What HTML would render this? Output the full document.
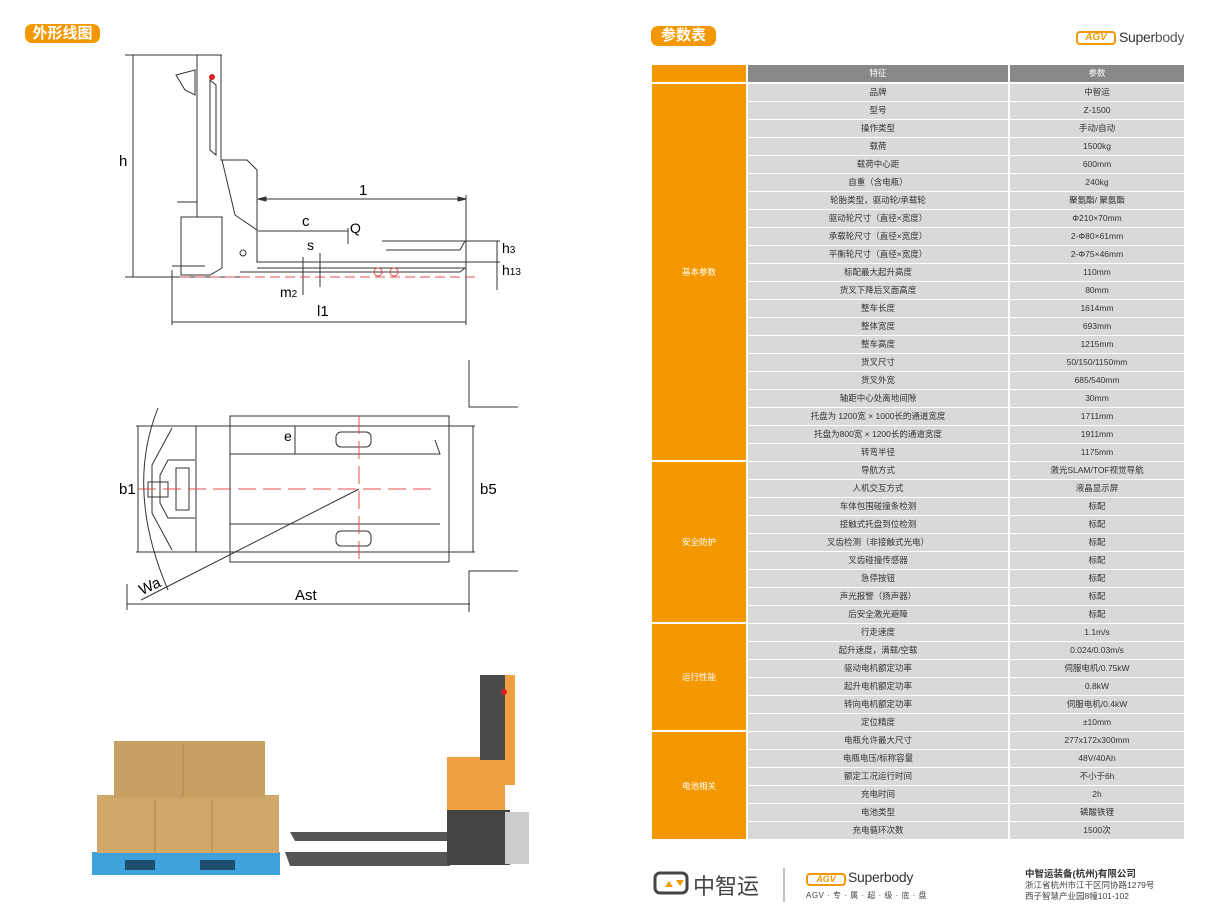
<!DOCTYPE html>
<html><head><meta charset="utf-8">
<style>
*{margin:0;padding:0;box-sizing:border-box}
body{width:1210px;height:917px;background:#fff;position:relative;overflow:hidden;font-family:"Liberation Sans","Noto Sans CJK SC",sans-serif}
.badge{position:absolute;background:#f39800;color:#fff;font-weight:bold;font-size:15px;border-radius:7px;text-align:center;line-height:20px}
#tbl{position:absolute;left:652px;top:65px}
.r{position:absolute;left:0;height:17px;font-size:8.5px;color:#333;line-height:17px;text-align:center}
.f{position:absolute;left:96px;width:260px;background:#d9d9d9}
.v{position:absolute;left:358px;width:174px;background:#d9d9d9}
.g{position:absolute;left:0;width:94px;background:#f39800;color:#fff;font-size:8.5px;display:flex;align-items:center;justify-content:center}
</style></head><body>
<div class="badge" style="left:25px;top:24px;width:75px;height:19px">外形线图</div>
<div class="badge" style="left:651px;top:26px;width:65px;height:20px">参数表</div>
<div style="position:absolute;left:1076px;top:31px;width:40px;height:14px;border:2px solid #f39800;border-radius:4px;color:#f39800;font-size:10px;font-weight:bold;font-style:italic;text-align:center;line-height:10px">AGV</div>
<div style="position:absolute;left:1119px;top:29px;font-size:14px;color:#333;letter-spacing:-0.3px">Super<span style="color:#555">body</span></div>

<svg width="1210" height="917" style="position:absolute;left:0;top:0" fill="none" stroke="#333" stroke-width="1">
<line x1="125" y1="55" x2="222" y2="55"/>
<line x1="133" y1="55" x2="133" y2="277"/>
<line x1="125" y1="277" x2="240" y2="277"/>
<path d="M197 55 H221 V160 H247 L257 170 V262 H465 M197 55 V217 M222 160 L235 215 L257 230"/>
<path d="M210 80 V150 L216 155 V85 Z"/>
<path d="M176 75 L195 70 V95 L185 90 Z"/>
<path d="M181 217 H222 V268 L210 275 H181 Z"/>
<path d="M177 202 H197 V217 H181"/>
<path d="M172 266 H205 M257 268 H465 L460 272 H240"/>
<path d="M382 241 H465 L460 250 H386"/>
<circle cx="212" cy="77" r="3" fill="#e02020" stroke="none"/>
<circle cx="243" cy="253" r="3"/>
<line x1="258" y1="199" x2="466" y2="199"/>
<path d="M258 199 l8 -2 v4z M466 199 l-8 -2 v4z" fill="#333"/>
<line x1="258" y1="231" x2="348" y2="231"/>
<line x1="348" y1="228" x2="348" y2="244"/>
<line x1="466" y1="195" x2="466" y2="325"/>
<line x1="172" y1="270" x2="172" y2="325"/>
<line x1="172" y1="322" x2="466" y2="322"/>
<line x1="460" y1="241" x2="500" y2="241"/>
<line x1="460" y1="262" x2="500" y2="262"/>
<line x1="497" y1="241" x2="497" y2="290"/>
<line x1="303" y1="257" x2="303" y2="295"/>
<line x1="320" y1="253" x2="320" y2="287"/>
<line x1="180" y1="277" x2="480" y2="277" stroke="#e05050" stroke-dasharray="10 5"/>
<circle cx="378" cy="272" r="4" stroke="#e05050"/><circle cx="394" cy="272" r="4" stroke="#e05050"/>
<rect x="230" y="416" width="219" height="146"/>
<path d="M230 426 H475 M230 454 H440 L435 440 M230 524 H440 M230 552 H475"/>
<line x1="136" y1="426" x2="145" y2="426"/><line x1="136" y1="552" x2="145" y2="552"/>
<line x1="138" y1="426" x2="138" y2="552"/>
<line x1="473" y1="426" x2="473" y2="552"/>
<line x1="295" y1="426" x2="295" y2="454"/>
<path d="M145 426 H196 V552 H145 M196 426 H230 V552 H196"/>
<path d="M172 428 L152 465 V513 L172 550" />
<path d="M195 460 H168 L160 475 V503 L168 518 H195"/>
<rect x="176" y="468" width="13" height="42"/>
<rect x="148" y="482" width="20" height="15"/>
<rect x="336" y="432" width="35" height="15" rx="5"/>
<rect x="336" y="531" width="35" height="15" rx="5"/>
<line x1="138" y1="489" x2="432" y2="489" stroke="#e05050" stroke-dasharray="18 7"/>
<line x1="359" y1="416" x2="359" y2="562" stroke="#e05050" stroke-dasharray="18 7"/>
<line x1="359" y1="489" x2="141" y2="600"/>
<path d="M158 408 Q125 490 168 590"/>
<line x1="127" y1="584" x2="127" y2="610"/>
<line x1="127" y1="604" x2="470" y2="604"/>
<path d="M469 360 V407 H518 M518 571 H469 V612"/>
<rect x="92" y="852" width="188" height="23" fill="#3ea3dd" stroke="none"/>
<rect x="125" y="860" width="30" height="10" fill="#1d4e70" stroke="none"/>
<rect x="200" y="860" width="35" height="10" fill="#1d4e70" stroke="none"/>
<rect x="97" y="795" width="182" height="58" fill="#d0a86a" stroke="none"/>
<rect x="114" y="741" width="151" height="57" fill="#c9a064" stroke="none"/>
<path d="M155 800 V852 M212 800 V852 M183 745 V797" stroke="#a8844c"/>
<path d="M290 832 H450 V841 H295 Z M285 852 H450 V866 H290 Z" fill="#555" stroke="none"/>
<rect x="447" y="757" width="58" height="70" fill="#f0a040" stroke="none"/>
<rect x="480" y="675" width="25" height="85" fill="#4a4a4a" stroke="none"/>
<rect x="505" y="675" width="10" height="110" fill="#f0a040" stroke="none"/>
<path d="M447 810 H510 V865 H447 Z" fill="#454545" stroke="none"/>
<rect x="505" y="812" width="24" height="52" fill="#ccc" stroke="none"/>
<circle cx="504" cy="692" r="3" fill="#e02020" stroke="none"/>
<line x1="784" y1="868" x2="784" y2="902" stroke="#aaa" stroke-width="1.5"/>
<rect x="655" y="873" width="32" height="20" rx="5" stroke="#444" stroke-width="3"/>
<path d="M665 887 l4 -6 l4 6z M676 880 l4 6 l4 -6z" fill="#f39800" stroke="none"/>
</svg>
<div style="position:absolute;left:119px;top:153px;font-size:15px">h</div>
<div style="position:absolute;left:359px;top:182px;font-size:15px">1</div>
<div style="position:absolute;left:302px;top:213px;font-size:15px">c</div>
<div style="position:absolute;left:350px;top:220px;font-size:14px">Q</div>
<div style="position:absolute;left:307px;top:237px;font-size:14px">s</div>
<div style="position:absolute;left:280px;top:284px;font-size:14px">m<span style="font-size:10px">2</span></div>
<div style="position:absolute;left:317px;top:303px;font-size:15px">l1</div>
<div style="position:absolute;left:502px;top:240px;font-size:14px">h<span style="font-size:10px">3</span></div>
<div style="position:absolute;left:502px;top:262px;font-size:14px">h<span style="font-size:10px">13</span></div>
<div style="position:absolute;left:119px;top:481px;font-size:15px">b1</div>
<div style="position:absolute;left:480px;top:481px;font-size:15px">b5</div>
<div style="position:absolute;left:284px;top:428px;font-size:14px">e</div>
<div style="position:absolute;left:139px;top:578px;font-size:15px;transform:rotate(-25deg)">Wa</div>
<div style="position:absolute;left:295px;top:587px;font-size:15px">Ast</div>

<div id="tbl">
<div class="g" style="top:0;height:17px"></div>
<div class="r f" style="top:0;background:#888;color:#fff">特征</div>
<div class="r v" style="top:0;background:#888;color:#fff">参数</div>
<div class="g" style="top:19px;height:376px">基本参数</div>
<div class="g" style="top:397px;height:160px">安全防护</div>
<div class="g" style="top:559px;height:106px">运行性能</div>
<div class="g" style="top:667px;height:107px">电池相关</div>
<div class="r f" style="top:19px">品牌</div><div class="r v" style="top:19px">中智运</div>
<div class="r f" style="top:37px">型号</div><div class="r v" style="top:37px">Z-1500</div>
<div class="r f" style="top:55px">操作类型</div><div class="r v" style="top:55px">手动/自动</div>
<div class="r f" style="top:73px">载荷</div><div class="r v" style="top:73px">1500kg</div>
<div class="r f" style="top:91px">载荷中心距</div><div class="r v" style="top:91px">600mm</div>
<div class="r f" style="top:109px">自重（含电瓶）</div><div class="r v" style="top:109px">240kg</div>
<div class="r f" style="top:127px">轮胎类型，驱动轮/承载轮</div><div class="r v" style="top:127px">聚氨酯/ 聚氨酯</div>
<div class="r f" style="top:145px">驱动轮尺寸（直径×宽度）</div><div class="r v" style="top:145px">Φ210×70mm</div>
<div class="r f" style="top:163px">承载轮尺寸（直径×宽度）</div><div class="r v" style="top:163px">2-Φ80×61mm</div>
<div class="r f" style="top:181px">平衡轮尺寸（直径×宽度）</div><div class="r v" style="top:181px">2-Φ75×46mm</div>
<div class="r f" style="top:199px">标配最大起升高度</div><div class="r v" style="top:199px">110mm</div>
<div class="r f" style="top:217px">货叉下降后叉面高度</div><div class="r v" style="top:217px">80mm</div>
<div class="r f" style="top:235px">整车长度</div><div class="r v" style="top:235px">1614mm</div>
<div class="r f" style="top:253px">整体宽度</div><div class="r v" style="top:253px">693mm</div>
<div class="r f" style="top:271px">整车高度</div><div class="r v" style="top:271px">1215mm</div>
<div class="r f" style="top:289px">货叉尺寸</div><div class="r v" style="top:289px">50/150/1150mm</div>
<div class="r f" style="top:307px">货叉外宽</div><div class="r v" style="top:307px">685/540mm</div>
<div class="r f" style="top:325px">轴距中心处离地间隙</div><div class="r v" style="top:325px">30mm</div>
<div class="r f" style="top:343px">托盘为 1200宽 × 1000长的通道宽度</div><div class="r v" style="top:343px">1711mm</div>
<div class="r f" style="top:361px">托盘为800宽 × 1200长的通道宽度</div><div class="r v" style="top:361px">1911mm</div>
<div class="r f" style="top:379px">转弯半径</div><div class="r v" style="top:379px">1175mm</div>
<div class="r f" style="top:397px">导航方式</div><div class="r v" style="top:397px">激光SLAM/TOF视觉导航</div>
<div class="r f" style="top:415px">人机交互方式</div><div class="r v" style="top:415px">液晶显示屏</div>
<div class="r f" style="top:433px">车体包围碰撞条检测</div><div class="r v" style="top:433px">标配</div>
<div class="r f" style="top:451px">接触式托盘到位检测</div><div class="r v" style="top:451px">标配</div>
<div class="r f" style="top:469px">叉齿检测（非接触式光电）</div><div class="r v" style="top:469px">标配</div>
<div class="r f" style="top:487px">叉齿碰撞传感器</div><div class="r v" style="top:487px">标配</div>
<div class="r f" style="top:505px">急停按钮</div><div class="r v" style="top:505px">标配</div>
<div class="r f" style="top:523px">声光报警（扬声器）</div><div class="r v" style="top:523px">标配</div>
<div class="r f" style="top:541px">后安全激光避障</div><div class="r v" style="top:541px">标配</div>
<div class="r f" style="top:559px">行走速度</div><div class="r v" style="top:559px">1.1m/s</div>
<div class="r f" style="top:577px">起升速度，满载/空载</div><div class="r v" style="top:577px">0.024/0.03m/s</div>
<div class="r f" style="top:595px">驱动电机额定功率</div><div class="r v" style="top:595px">伺服电机/0.75kW</div>
<div class="r f" style="top:613px">起升电机额定功率</div><div class="r v" style="top:613px">0.8kW</div>
<div class="r f" style="top:631px">转向电机额定功率</div><div class="r v" style="top:631px">伺服电机/0.4kW</div>
<div class="r f" style="top:649px">定位精度</div><div class="r v" style="top:649px">±10mm</div>
<div class="r f" style="top:667px">电瓶允许最大尺寸</div><div class="r v" style="top:667px">277x172x300mm</div>
<div class="r f" style="top:685px">电瓶电压/标称容量</div><div class="r v" style="top:685px">48V/40Ah</div>
<div class="r f" style="top:703px">额定工况运行时间</div><div class="r v" style="top:703px">不小于6h</div>
<div class="r f" style="top:721px">充电时间</div><div class="r v" style="top:721px">2h</div>
<div class="r f" style="top:739px">电池类型</div><div class="r v" style="top:739px">磷酸铁锂</div>
<div class="r f" style="top:757px">充电循环次数</div><div class="r v" style="top:757px">1500次</div>
</div>

<div style="position:absolute;left:693px;top:869px;font-size:22px;color:#444">中智运</div>
<div style="position:absolute;left:806px;top:873px;width:40px;height:13px;border:2px solid #f39800;border-radius:4px;color:#f39800;font-size:9px;font-weight:bold;font-style:italic;text-align:center;line-height:9px">AGV</div>
<div style="position:absolute;left:848px;top:869px;font-size:14px;color:#333;letter-spacing:-0.3px">Superbody</div>
<div style="position:absolute;left:806px;top:890px;font-size:8px;color:#444;letter-spacing:0.5px">AGV · 专 · 属 · 超 · 级 · 底 · 盘</div>
<div style="position:absolute;left:1025px;top:866px;font-size:9.5px;font-weight:bold;color:#333">中智运装备(杭州)有限公司</div>
<div style="position:absolute;left:1025px;top:880px;font-size:8.5px;color:#444;line-height:11px">浙江省杭州市江干区同协路1279号<br>西子智慧产业园8幢101-102</div>
</body></html>
